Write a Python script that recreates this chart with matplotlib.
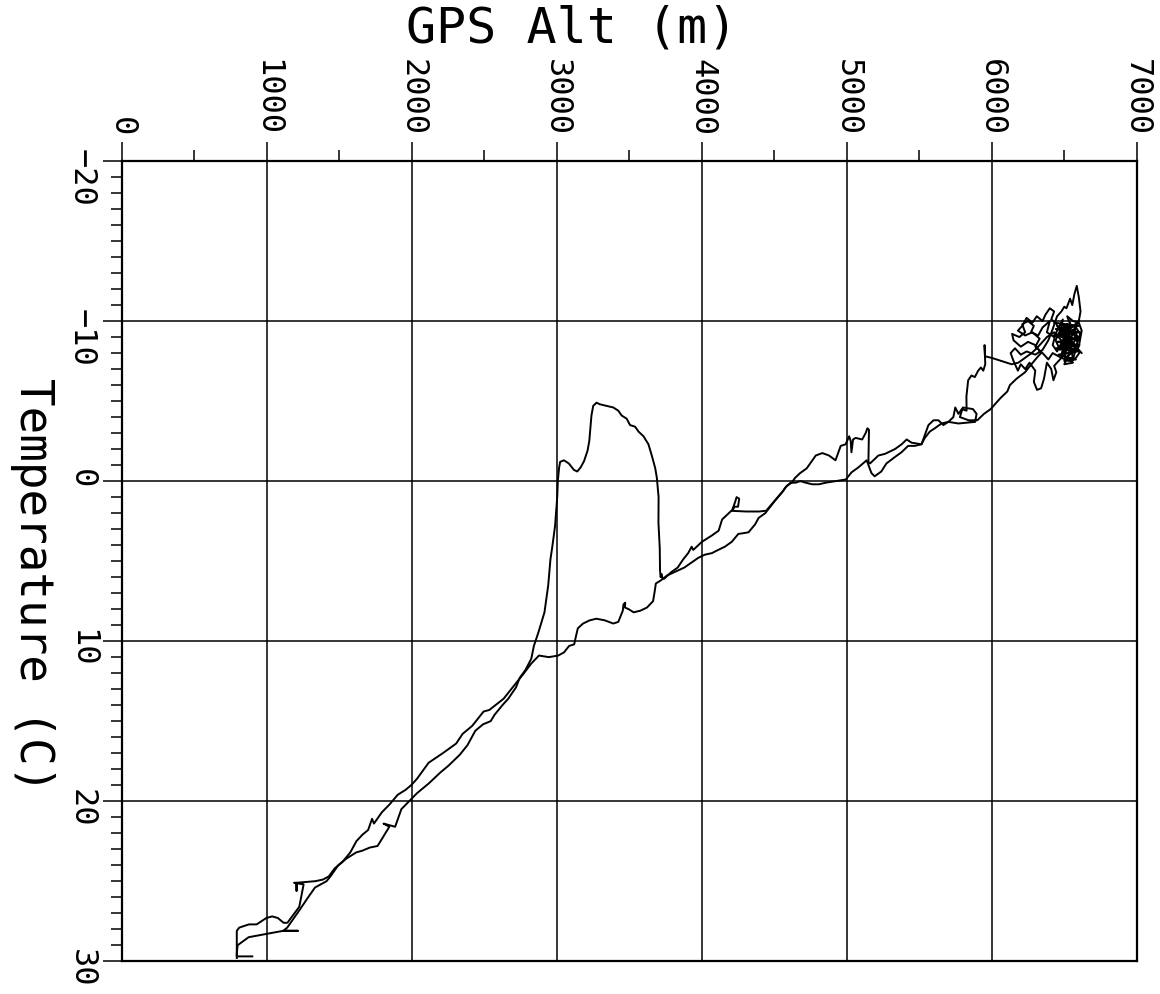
import numpy as np
import matplotlib.pyplot as plt
from matplotlib.ticker import MultipleLocator

# (GPS altitude m, temperature C) along the way up
ascent = [
    (900, 29.7), (793, 29.7), (793, 28.1), (810, 27.9), (877, 27.7), (930, 27.7),
    (997, 27.3), (1037, 27.2), (1076, 27.3), (1116, 27.6), (1142, 27.6), (1224, 26.6),
    (1254, 25.2), (1188, 25.1), (1205, 25.1), (1205, 25.6), (1205, 25.1), (1334, 25.0),
    (1387, 24.9), (1428, 24.7), (1468, 24.2), (1522, 23.8), (1576, 23.2), (1618, 22.5),
    (1659, 22.1), (1699, 21.8), (1726, 21.1), (1739, 21.4), (1793, 20.7), (1847, 20.2),
    (1903, 19.6), (1956, 19.3), (1996, 19.0), (2036, 18.6), (2116, 17.6), (2214, 17.0),
    (2306, 16.4), (2350, 15.8), (2416, 15.3), (2495, 14.4), (2535, 14.3), (2633, 13.6),
    (2712, 12.7), (2765, 12.1), (2824, 11.4), (2877, 10.9), (2945, 11.0), (3010, 10.9),
    (3050, 10.7), (3085, 10.3), (3120, 10.2), (3132, 9.7), (3145, 9.2), (3181, 8.9),
    (3227, 8.7), (3273, 8.6), (3331, 8.7), (3389, 8.9), (3424, 8.8), (3455, 8.1),
    (3460, 7.7), (3472, 7.6), (3470, 7.9), (3495, 8.0), (3530, 8.2), (3576, 8.1),
    (3622, 7.9), (3664, 7.5), (3675, 6.9), (3683, 6.4), (3718, 6.2), (3760, 5.9),
    (3833, 5.6), (3880, 5.4), (3928, 5.1), (3975, 4.8), (4020, 4.6), (4070, 4.5),
    (4113, 4.3), (4159, 4.1), (4206, 3.8), (4252, 3.3), (4290, 3.25), (4322, 3.2),
    (4368, 2.7), (4392, 2.3), (4438, 2.0), (4507, 1.2), (4554, 0.7), (4577, 0.4),
    (4612, 0.1), (4647, 0.1), (4680, 0.0), (4716, 0.1), (4762, 0.2), (4808, 0.2),
    (4855, 0.1), (4924, 0.0), (4993, -0.1), (5033, -0.55), (5079, -0.85), (5137, -1.3),
    (5170, -0.5), (5192, -0.3), (5238, -0.6), (5273, -1.1), (5331, -1.5), (5377, -1.8),
    (5423, -2.2), (5469, -2.2), (5515, -2.3), (5538, -2.7), (5573, -3.1), (5607, -3.3),
    (5653, -3.6), (5700, -3.7), (5770, -3.6), (5885, -3.7), (5895, -4.2), (5870, -4.5),
    (5800, -4.6), (5780, -4.0), (5840, -3.8), (5900, -3.8), (5946, -4.2), (5992, -4.5),
    (6061, -5.2), (6107, -5.6), (6125, -6.0), (6171, -6.4), (6229, -6.8), (6264, -7.2),
    (6310, -7.7),
]

# scribble at the top of the flight
ceiling_a = [
    (6340, -8.0), (6300, -8.5), (6250, -8.7), (6200, -8.4), (6150, -8.8), (6140, -9.2),
    (6190, -9.0), (6230, -9.3), (6210, -9.8), (6250, -10.0), (6290, -9.7), (6270, -9.3),
    (6320, -9.1), (6350, -9.6), (6400, -10.0), (6380, -9.3), (6430, -9.0), (6460, -9.6),
    (6490, -10.1), (6470, -9.2), (6520, -9.4), (6540, -8.8), (6510, -8.3), (6480, -8.6),
    (6450, -8.1), (6420, -8.5), (6440, -9.2), (6500, -9.0), (6560, -9.3), (6590, -8.7),
    (6610, -9.2), (6580, -9.6), (6540, -9.8), (6520, -10.3), (6560, -10.0), (6600, -9.9),
    (6620, -9.4), (6600, -8.4), (6570, -8.0), (6530, -8.5), (6500, -7.9), (6460, -7.5),
    (6430, -7.2), (6445, -6.8), (6425, -6.3), (6410, -7.0), (6380, -7.4), (6360, -6.4),
    (6340, -5.8), (6312, -5.7), (6290, -6.2), (6300, -6.9), (6260, -7.4), (6230, -7.0),
    (6200, -7.3), (6180, -6.9), (6150, -7.5), (6130, -8.0), (6160, -8.3), (6200, -7.9),
    (6240, -8.1), (6300, -7.9), (6350, -8.2), (6390, -8.8), (6420, -9.5), (6450, -10.3),
    (6480, -10.6), (6500, -10.9), (6515, -10.8), (6540, -11.4), (6555, -11.0), (6570, -11.7),
    (6586, -12.2), (6600, -11.5), (6612, -10.6), (6600, -10.0),
]

# dense knot where the plane circled
ceiling_core = [
    (6430, -9.9), (6600, -9.7), (6440, -9.5), (6610, -9.3), (6425, -9.1), (6595, -8.9),
    (6450, -8.7), (6605, -8.5), (6440, -8.3), (6590, -8.1), (6460, -7.9), (6580, -7.6),
    (6500, -7.5), (6540, -9.9), (6480, -7.8), (6520, -9.8), (6560, -7.6), (6600, -9.0),
    (6450, -9.7), (6620, -8.0), (6470, -9.2), (6575, -9.5), (6490, -8.0), (6600, -10.0),
]

ceiling_b = [
    (6600, -10.0), (6480, -9.0), (6560, -8.9), (6500, -8.5), (6580, -8.2), (6520, -7.8),
    (6560, -7.4), (6500, -7.3), (6540, -8.1), (6470, -8.4), (6530, -9.6), (6480, -9.8),
    (6550, -9.2), (6570, -9.5), (6590, -9.0), (6560, -8.6), (6530, -9.1), (6500, -8.7),
    (6470, -8.2), (6440, -8.8), (6470, -9.4), (6440, -9.9), (6410, -10.1), (6430, -10.6),
    (6400, -10.8), (6370, -10.4), (6350, -10.0), (6310, -10.3), (6280, -9.9), (6240, -10.2),
    (6210, -9.7), (6180, -9.4), (6230, -9.1), (6280, -9.3), (6330, -8.9), (6300, -8.4),
    (6350, -8.0), (6390, -7.6), (6420, -8.0), (6480, -7.7), (6540, -7.5), (6580, -7.7),
    (6603, -8.0), (6590, -8.4), (6550, -8.2), (6510, -8.4), (6470, -8.9), (6430, -9.3),
    (6380, -9.0), (6340, -8.6), (6310, -8.3), (6275, -8.0),
]

# and back down
descent = [
    (6275, -8.0), (6229, -7.7), (6183, -7.4), (6137, -7.3), (6068, -7.5), (5999, -7.7),
    (5953, -7.8), (5950, -8.5), (5955, -7.3), (5941, -6.9), (5925, -7.1), (5906, -6.9),
    (5883, -6.5), (5860, -6.6), (5837, -6.3), (5825, -5.3), (5826, -4.4), (5793, -4.5),
    (5770, -4.2), (5748, -4.6), (5735, -4.0), (5700, -3.7), (5666, -3.5), (5632, -3.8),
    (5598, -3.8), (5563, -3.5), (5539, -2.9), (5515, -2.3), (5447, -2.4), (5413, -2.6),
    (5378, -2.3), (5332, -2.0), (5263, -1.7), (5218, -1.6), (5160, -1.1), (5149, -1.2),
    (5153, -3.2), (5142, -3.3), (5130, -3.0), (5106, -2.6), (5061, -2.7), (5043, -2.6),
    (5032, -1.8), (5027, -2.5), (5016, -2.8), (4992, -2.3), (4958, -2.2), (4922, -1.3),
    (4877, -1.6), (4831, -1.75), (4786, -1.6), (4724, -0.8), (4678, -0.5), (4643, -0.2),
    (4620, 0.1), (4585, 0.3), (4562, 0.6), (4515, 1.1), (4444, 1.85), (4397, 1.9),
    (4305, 1.9), (4212, 1.86), (4225, 1.6), (4250, 1.6), (4258, 1.1), (4240, 1.0),
    (4230, 1.3), (4210, 1.8), (4163, 2.2), (4140, 2.4), (4116, 3.1), (4069, 3.4),
    (4000, 3.8), (3965, 4.1), (3941, 4.3), (3930, 4.1), (3906, 4.5), (3871, 4.9),
    (3834, 5.4), (3788, 5.7), (3741, 6.1), (3729, 6.1), (3722, 5.8), (3716, 6.0),
    (3712, 5.6), (3710, 4.2), (3701, 2.6), (3702, 1.0), (3690, -0.2), (3679, -0.8),
    (3655, -1.6), (3632, -2.3), (3598, -2.8), (3563, -3.1), (3540, -3.4), (3505, -3.5),
    (3482, -3.9), (3447, -4.1), (3424, -4.4), (3390, -4.6), (3343, -4.7), (3297, -4.8),
    (3274, -4.9), (3251, -4.7), (3239, -4.1), (3224, -2.5), (3212, -1.9), (3188, -1.25),
    (3164, -0.85), (3141, -0.6), (3118, -0.7), (3083, -1.1), (3049, -1.3), (3023, -1.2),
    (3016, -0.85), (3007, 0.0), (3003, 1.0), (2988, 2.8), (2969, 4.1), (2956, 4.9),
    (2941, 6.5), (2915, 8.2), (2875, 9.4), (2842, 10.3), (2824, 11.1), (2784, 11.8),
    (2744, 12.3), (2718, 12.9), (2665, 13.6), (2625, 14.0), (2571, 14.6), (2544, 15.0),
    (2491, 15.2), (2438, 15.6), (2384, 16.5), (2331, 17.1), (2251, 17.8), (2198, 18.2),
    (2116, 18.9), (2036, 19.5), (1982, 20.0), (1928, 20.5), (1885, 21.6), (1805, 21.4),
    (1845, 21.6), (1818, 22.0), (1791, 22.4), (1764, 22.8), (1710, 22.9), (1657, 23.1),
    (1617, 23.2), (1547, 23.6), (1493, 24.0), (1439, 24.7), (1412, 25.0), (1332, 25.4),
    (1278, 26.1), (1226, 26.8), (1141, 27.9), (1114, 28.1), (1214, 28.1), (1114, 28.1),
    (995, 28.3), (875, 28.5), (799, 29.0), (793, 29.5), (793, 29.8),
]

alt_ticks = [0, 1000, 2000, 3000, 4000, 5000, 6000, 7000]
temp_ticks = [-20, -10, 0, 10, 20, 30]

plt.rcParams['font.family'] = ['DejaVu Sans Mono']

fig = plt.figure(figsize=(11.6, 9.94), dpi=100)
ax = fig.add_axes([0.105, 0.033, 0.875, 0.805])

for trace in (ascent + ceiling_a, ceiling_core, ceiling_b + descent):
    alt, temp = np.array(trace).T
    ax.plot(alt, temp, color='black', lw=1.4, solid_joinstyle='round')

ax.set_xlim(0, 7000)
ax.set_ylim(30, -20)

ax.xaxis.tick_top()
ax.set_xticks(alt_ticks)
ax.xaxis.set_minor_locator(MultipleLocator(500))
ax.set_yticks(temp_ticks)
ax.yaxis.set_minor_locator(MultipleLocator(1))

ax.grid(True, which='major', color='black', lw=1.1)
ax.tick_params(which='major', direction='out', length=14, width=1.1, pad=4,
               labelsize=23, labelrotation=-90, colors='black')
ax.tick_params(which='minor', direction='out', length=8, width=1.1)
for sp in ax.spines.values():
    sp.set_linewidth(1.6)

ax.xaxis.set_label_position('top')
ax.set_xlabel('GPS Alt (m)', fontsize=36)
ax.xaxis.label.set_va('center')
ax.xaxis.set_label_coords(0.443, 1.165)

ax.set_ylabel('Temperature (C)', fontsize=33, rotation=-90, va='center', ha='center')
ax.yaxis.set_label_coords(-0.088, 0.47)

fig.savefig('out.png', dpi=100, facecolor='white')
